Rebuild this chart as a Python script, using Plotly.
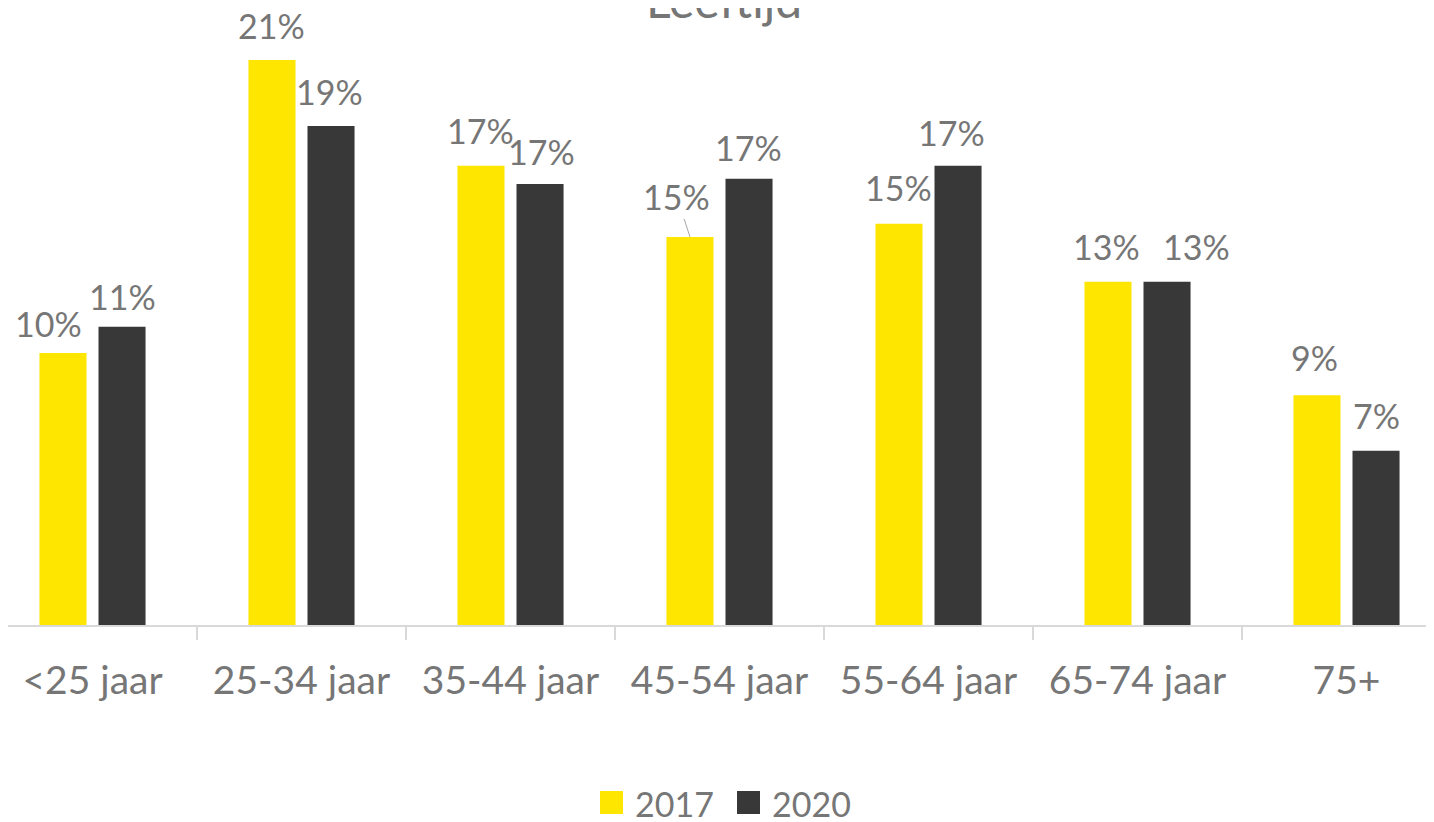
import plotly.graph_objects as go

categories = ["<25 jaar", "25-34 jaar", "35-44 jaar", "45-54 jaar", "55-64 jaar", "65-74 jaar", "75+"]
series_names = ["2017", "2020"]
values_2017 = [10.3, 21.4, 17.4, 14.7, 15.2, 13.0, 8.7]
values_2020 = [11.3, 18.9, 16.7, 16.9, 17.4, 13.0, 6.6]
title_text = "Leeftijd"

# label nudges in pixels (dx, dy) from the bar top centre, per series
nudges_2017 = [(-14, -30), (0, -35), (0, -35), (-13, -40), (0, -36), (-1, -35), (-2, -38)]
nudges_2020 = [(0, -30), (-2, -35), (1, -33), (-1, -31), (-7, -33), (29, -35), (0, -35)]
leader_line = [(0, 3)]  # (series index, category index) that shows a leader line

colors = ["#FFE600", "#383838"]
text_gray = "#767676"
axis_gray = "#D9D9D9"
FONT = "Lato"
W, H = 1434, 822
PAGE_OFF = 8  # the page body margin shifts the figure by 8 px
BARGAP, BARGROUPGAP = 0.435, 0.203
PX_PER_CAT = 209.0

fig = go.Figure()
for name, vals, col in zip(series_names, [values_2017, values_2020], colors):
    fig.add_trace(go.Bar(x=categories, y=vals, name=name, marker=dict(color=col, line=dict(width=0)),
                         showlegend=False, hoverinfo="skip"))

slot = (1 - BARGAP) / 2
offsets = [-slot / 2, slot / 2]
annotations = []
for s, (vals, nudges) in enumerate([(values_2017, nudges_2017), (values_2020, nudges_2020)]):
    for i, v in enumerate(vals):
        dx, dy = nudges[i]
        leader = (s, i) in leader_line
        annotations.append(dict(
            x=i + offsets[s], y=v, xref="x", yref="y",
            text=f"{int(v + 0.5)}%", showarrow=True, ax=dx, ay=dy,
            arrowhead=0, arrowwidth=1, standoff=0, startstandoff=0,
            arrowcolor="#A6A6A6" if leader else "rgba(0,0,0,0)",
            font=dict(family=FONT, size=34, color=text_gray),
        ))

# layout in reference page pixels, converted to figure pixels
plot_top, plot_bottom = 25 - PAGE_OFF, 625 - PAGE_OFF
ph = plot_bottom - plot_top
def py(ref_pix):
    return (plot_bottom - (ref_pix - PAGE_OFF)) / ph
def px(ref_pix):
    return (ref_pix - PAGE_OFF) / W

annotations.append(dict(x=px(724), y=py(-1), xref="paper", yref="paper", text=title_text,
                        showarrow=False, xanchor="center", yanchor="middle",
                        font=dict(family=FONT, size=48, color=text_gray)))

# manual legend
shapes = []
legend_x = [600, 737]
for k, (name, col) in enumerate(zip(series_names, colors)):
    x0 = legend_x[k]
    shapes.append(dict(type="rect", xref="paper", yref="paper", x0=px(x0), x1=px(x0 + 23),
                       y0=py(814), y1=py(791), fillcolor=col, line=dict(width=0)))
    annotations.append(dict(x=px(x0 + 33), y=py(803), xref="paper", yref="paper", text=name,
                            showarrow=False, xanchor="left", yanchor="middle",
                            font=dict(family=FONT, size=34, color=text_gray)))

x_start = -0.4426 + PAGE_OFF / PX_PER_CAT
fig.update_layout(
    width=W, height=H,
    margin=dict(l=0, r=0, t=plot_top, b=H - plot_bottom, pad=0),
    paper_bgcolor="white", plot_bgcolor="white",
    barmode="group", bargap=BARGAP, bargroupgap=BARGROUPGAP,
    font=dict(family=FONT, color=text_gray),
    annotations=annotations, shapes=shapes,
    xaxis=dict(type="category", range=[x_start, x_start + W / PX_PER_CAT], showline=True,
               linecolor=axis_gray, linewidth=2, ticks="outside", tickson="boundaries", ticklen=13,
               tickwidth=2, tickcolor=axis_gray, showgrid=False, zeroline=False,
               ticklabelstandoff=20,
               tickfont=dict(family=FONT, size=39, color=text_gray)),
    yaxis=dict(visible=False, range=[0, ph / 26.4], fixedrange=True),
)

fig.write_html("out.html")
